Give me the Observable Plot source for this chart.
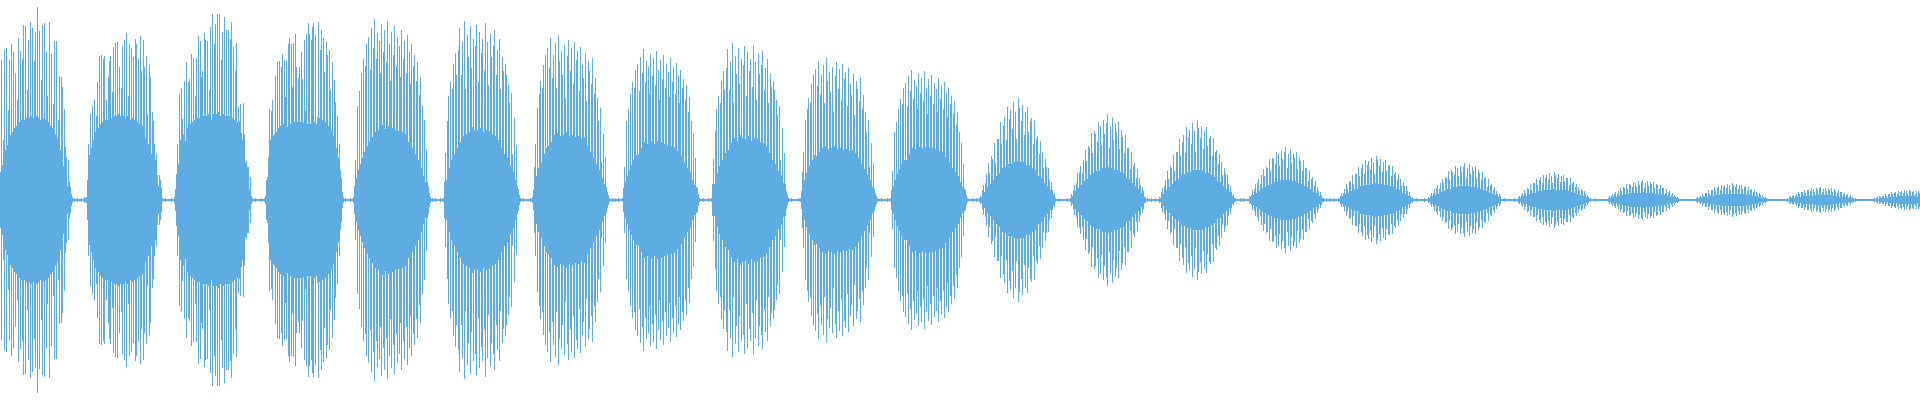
<!DOCTYPE html>
<html>
<head>
<meta charset="utf-8">
<script src="https://cdn.jsdelivr.net/npm/d3@7"></script>
<script src="https://cdn.jsdelivr.net/npm/@observablehq/plot@0.6"></script>
<style>
html, body { margin: 0; padding: 0; background: #ffffff; overflow: hidden; }
#chart svg { display: block; }
</style>
</head>
<body>
<div id="chart"></div>
<script>
// Half-height amplitude (in signal units, full scale = 200) of every sample, one array per burst.
const burst00 = [28,140,35,60,150,50,152,55,90,140,65,156,68,148,72,127,74,100,162,78,149,80,141,175,80,174,82,110,160,82,178,84,172,82,139,168,84,193,82,169,80,120,175,82,177,80,148,104,78,178,74,146,72,96,159,66,159,62,80,124,50,123,113,34,91,53,43,14,40,18,13,6,3,1,2,1,1,2,1,1,1];
const burst01 = [2,1,1,3,2,3,20,56,45,86,52,94,60,100,68,84,118,72,144,76,145,78,141,144,80,100,80,123,139,144,82,108,153,84,157,84,158,86,133,84,112,154,84,160,82,167,84,104,156,80,152,82,143,80,161,156,78,141,76,164,129,74,160,133,62,144,86,56,136,123,46,88,79,56,40,46,25,14,25,20,12,2,1,1,2,1,1,1];
const burst02 = [1,1,2,1,1,3,11,26,56,36,106,60,112,81,66,119,59,138,72,118,121,76,146,78,142,80,104,142,82,164,82,159,123,129,84,167,160,84,159,86,110,173,80,186,86,156,176,86,186,88,186,84,140,168,86,183,84,170,84,170,84,161,178,82,153,80,129,157,78,93,79,96,67,60,97,66,37,39,33,33,10,23,4,2,1,1,2,1,1,1];
const burst03 = [1,1,2,1,1,2,4,20,23,43,91,60,89,100,64,66,124,68,138,72,139,74,133,146,76,140,103,139,73,156,162,76,156,113,157,78,166,133,78,122,133,78,148,121,77,160,89,166,76,177,166,76,160,173,177,78,165,76,83,178,82,150,170,80,162,128,78,158,145,74,150,110,70,138,64,120,98,52,84,42,56,30,22,8,3,1,2,1,1];
const burst04 = [1,1,2,1,1,3,14,40,22,94,30,109,36,127,42,141,48,134,156,54,163,58,130,172,63,152,181,68,141,167,70,159,127,176,75,148,170,71,138,179,74,156,119,168,72,145,174,70,134,163,69,154,123,170,68,141,159,66,127,165,58,148,116,156,52,134,145,46,119,138,40,105,123,32,94,24,80,18,51,18,14,7,3,1,2,1,1,2,1,1];
const burst05 = [1,1,2,1,1,2,18,47,20,79,104,32,118,40,111,136,46,147,125,52,150,172,58,125,158,64,179,111,66,165,143,68,174,132,73,161,70,154,175,69,118,168,72,147,161,68,129,177,70,158,115,69,166,143,66,154,170,64,125,150,60,161,111,52,143,129,46,136,125,42,115,97,34,107,46,28,82,20,54,14,11,5,2,1,1,2,1,1,1];
const burst06 = [1,1,1,2,1,3,10,33,56,24,92,32,106,119,38,112,135,46,145,52,152,54,132,162,58,122,145,65,157,112,67,165,139,64,149,125,65,155,102,68,144,160,64,129,152,65,116,158,63,140,149,64,109,153,61,135,122,63,147,99,54,139,129,48,116,142,42,106,122,36,102,79,30,92,38,22,66,16,43,13,8,5,2,1,1,2,1,1,2,1];
const burst07 = [1,2,1,1,1,2,12,33,18,79,24,91,30,106,35,118,40,112,130,45,136,46,109,143,52,127,151,58,118,139,56,133,106,146,59,124,142,56,115,149,59,130,100,140,58,121,145,56,112,136,55,128,103,142,54,118,133,53,106,137,49,124,97,130,44,112,121,38,100,115,32,88,103,28,79,20,66,15,42,13,12,6,2,1,1,1,2,1,1];
const burst08 = [1,1,2,1,1,2,16,41,16,69,91,27,104,34,97,119,40,129,110,47,132,151,50,110,138,57,157,97,62,144,126,59,152,116,65,141,62,135,154,61,104,148,64,129,141,59,113,155,62,138,100,61,146,126,58,135,149,57,110,132,54,141,97,47,126,113,40,119,110,36,100,85,29,94,40,24,72,17,47,16,9,5,2,1,1,2,1,1,1];
const burst09 = [1,1,1,2,1,2,9,28,48,20,80,27,91,102,34,97,116,40,125,45,131,44,114,139,48,105,125,52,135,97,54,142,119,51,128,108,52,133,88,54,124,138,51,111,131,52,99,136,50,121,128,51,94,132,49,116,105,50,126,85,47,119,111,42,99,122,36,91,105,31,88,68,25,80,33,20,57,13,37,11,7,4,2,1,1,1,2,1,1,1];
const burst10 = [1,1,2,1,1,2,10,29,14,68,20,78,26,91,31,101,36,96,112,40,117,40,94,124,46,109,130,52,101,120,51,114,91,126,53,107,122,52,99,129,53,112,86,121,52,104,125,52,96,117,51,111,88,122,49,101,114,48,91,118,43,107,83,112,38,96,104,32,86,99,28,75,88,24,68,18,57,13,36,11,10,5,2,1,1,1,1,2,1];
const burst11 = [1,1,2,1,1,2,4,3,10,15,8,17,26,13,37,27,16,44,41,20,57,37,24,61,61,27,78,56,32,74,83,33,60,93,36,81,90,36,71,98,38,88,61,39,102,92,38,79,95,38,65,88,35,93,68,35,79,82,32,56,80,30,61,64,24,46,59,22,48,32,17,41,33,14,32,20,10,18,10,5,7,2,1,1,1,2,1,1,1,1];
const burst12 = [1,1,1,2,1,1,2,6,4,9,15,9,17,27,12,28,34,15,27,40,19,50,39,21,54,52,25,67,47,27,69,66,29,58,78,29,74,55,32,80,66,32,77,86,33,52,74,32,83,60,30,76,68,30,78,51,28,70,63,27,47,65,22,52,52,21,31,48,17,34,37,14,22,31,11,22,15,7,13,9,3,3,1,2,1,1,1,2,1];
const burst13 = [1,1,2,1,1,1,3,2,8,12,6,14,20,10,29,21,13,34,32,16,45,29,19,48,48,21,61,44,25,58,65,26,47,73,28,63,70,28,56,77,30,69,48,30,80,72,30,62,74,30,51,69,27,73,54,27,62,64,25,44,62,23,48,50,19,36,46,18,38,25,14,32,26,11,25,16,8,14,8,4,6,2,2,1,1,1,1,2,1];
const burst14 = [1,2,1,1,1,1,1,4,3,5,10,5,11,16,7,17,21,9,16,25,12,31,24,13,33,32,15,41,29,16,42,41,18,36,48,18,46,34,20,49,41,20,48,53,20,32,46,20,51,37,19,47,42,19,48,31,17,43,39,16,29,40,14,32,32,13,19,30,11,21,23,8,14,19,7,13,9,4,8,5,2,2,1,1,2,1,1,1,2,1];
const burst15 = [1,1,2,1,1,1,2,1,4,7,4,7,11,6,16,11,7,19,18,9,25,16,11,26,26,11,33,24,14,32,36,14,26,40,15,35,39,15,31,42,16,38,26,17,44,40,16,34,41,16,28,38,15,40,29,15,34,35,14,24,34,13,26,28,11,20,26,10,21,14,7,18,14,6,14,9,4,8,4,2,3,1,1,1,2,1,1,1,1];
const burst16 = [1,1,1,2,1,1,1,3,2,4,7,4,7,11,5,12,15,6,11,17,8,21,17,9,23,22,11,29,20,11,30,28,13,25,34,13,32,24,14,34,28,14,33,37,14,22,32,14,36,26,13,33,29,13,34,22,12,30,27,11,20,28,10,22,22,9,13,21,7,15,16,6,10,13,5,9,6,3,6,4,1,1,1,2,1,1,1,1,1];
const burst17 = [1,1,1,1,2,1,1,1,3,4,2,5,7,4,10,7,4,12,11,6,16,10,7,17,17,7,21,15,9,20,23,9,17,25,10,22,25,10,20,27,10,24,17,11,28,25,10,22,26,10,18,24,10,25,19,10,22,22,9,15,22,8,17,18,7,13,16,6,13,9,5,11,9,4,9,6,3,5,3,1,2,1,1,1,1,2,1,1,1];
const burst18 = [1,1,1,1,1,1,1,1,1,2,4,2,4,6,3,6,8,3,6,9,4,12,9,5,13,12,6,16,11,6,16,15,7,13,18,7,17,13,7,19,15,7,18,20,8,12,17,7,19,14,7,18,16,7,18,12,6,16,15,6,11,15,5,12,12,5,7,11,4,8,9,3,5,7,3,5,3,2,3,2,1,1,1,1,1,1,1,1,1];
const burst19 = [1,1,1,1,1,1,1,1,2,3,1,3,4,2,6,4,3,7,7,3,10,6,4,10,10,4,13,9,5,12,14,5,10,15,6,13,15,6,12,16,6,15,10,6,17,15,6,13,16,6,11,15,6,15,11,6,13,14,5,9,13,5,10,11,4,8,10,4,8,5,3,7,5,2,5,3,2,3,2,1,1,1,1,1,1,1,1,1,1];
const burst20 = [1,1,1,1,1,1,1,1,1,1,2,1,3,4,2,4,5,2,4,6,3,8,6,3,8,8,4,10,7,4,10,10,4,9,12,4,11,8,5,12,10,5,12,13,5,8,11,5,12,9,5,11,10,5,12,8,4,11,9,4,7,10,3,8,8,3,5,7,3,5,6,2,3,5,2,3,2,1,2,1,1,1,1,1,1,1,1,1];
const burst21 = [1,1,1,1,1,1,1,1,1,2,1,2,3,1,4,3,2,4,4,2,6,4,2,6,6,3,8,6,3,7,8,3,6,9,4,8,9,4,7,10,4,9,6,4,10,9,4,8,9,4,6,9,3,9,7];

const bursts = [burst00, burst01, burst02, burst03, burst04, burst05, burst06, burst07, burst08, burst09, burst10,
                burst11, burst12, burst13, burst14, burst15, burst16, burst17, burst18, burst19, burst20, burst21];
const amplitude = bursts.flat();
const samples = amplitude.map((a, i) => ({sample: i, amp: a}));

const chart = Plot.plot({
  width: 1920,
  height: 400,
  margin: 0,
  style: {background: "#ffffff"},
  x: {domain: [0, amplitude.length], axis: null},
  y: {domain: [-200, 200], axis: null},
  marks: [
    Plot.ruleX(samples, {x: "sample", y1: d => -d.amp, y2: "amp", stroke: "#5DADE2", strokeWidth: 1})
  ]
});
document.getElementById("chart").append(chart);
</script>
</body>
</html>
